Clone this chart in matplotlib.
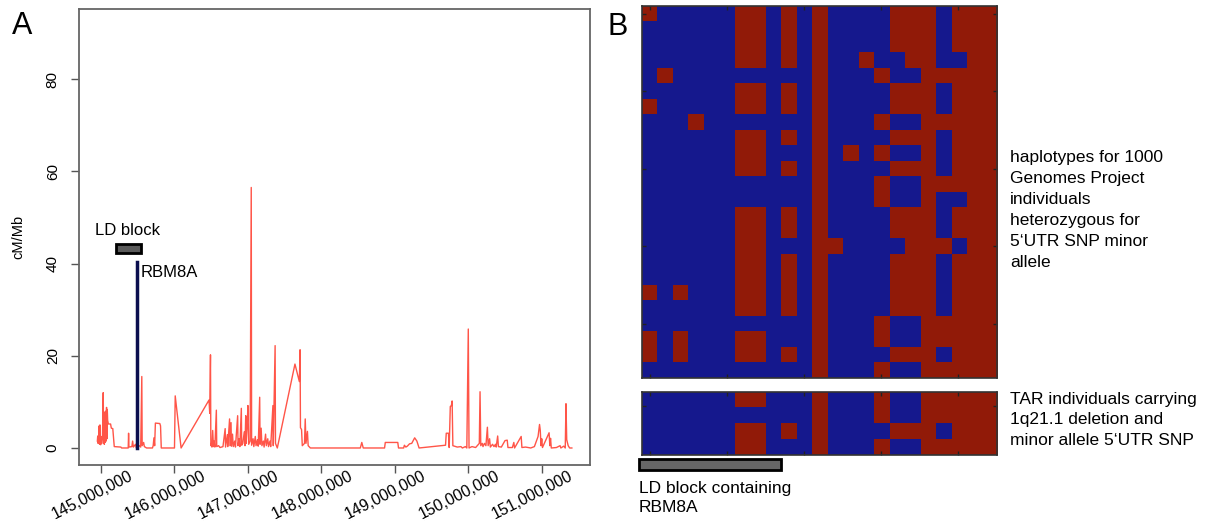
import matplotlib
matplotlib.use('Agg')
import matplotlib.pyplot as plt
import matplotlib.transforms as mtransforms
from matplotlib.colors import ListedColormap
from matplotlib.patches import Rectangle
import numpy as np

plt.rcParams['font.family'] = ['Liberation Sans', 'DejaVu Sans']

# ---------------- data ----------------
# recombination rate (cM/Mb) along chr1 (positions in Mb)
rec_pos_mb = [
    144.95, 144.955, 144.96, 144.965, 144.97, 144.975, 144.98, 144.985, 144.99, 144.995,
    145.00, 145.01, 145.02, 145.03, 145.035, 145.04, 145.045, 145.05, 145.055, 145.06,
    145.065, 145.07, 145.075, 145.08, 145.085, 145.09, 145.10, 145.13, 145.14, 145.16,
    145.18, 145.27, 145.28, 145.37, 145.375, 145.38, 145.42, 145.43, 145.44, 145.47,
    145.48, 145.50, 145.52, 145.54, 145.555, 145.56, 145.58, 145.59, 145.62, 145.70,
    145.71, 145.72, 145.73, 145.74, 145.80, 145.81, 145.82, 146.00, 146.01, 146.09,
    146.47, 146.48, 146.49, 146.495, 146.50, 146.51, 146.52, 146.53, 146.54, 146.55,
    146.57, 146.575, 146.60, 146.62, 146.66, 146.69, 146.695, 146.72, 146.725, 146.75,
    146.755, 146.77, 146.775, 146.79, 146.80, 146.82, 146.83, 146.86, 146.865, 146.88,
    146.89, 146.91, 146.915, 146.93, 146.95, 146.96, 146.97, 146.975, 146.99, 147.00,
    147.01, 147.03, 147.045, 147.05, 147.07, 147.08, 147.10, 147.11, 147.13, 147.14,
    147.16, 147.165, 147.18, 147.19, 147.21, 147.22, 147.24, 147.25, 147.27, 147.28,
    147.30, 147.31, 147.34, 147.345, 147.37, 147.375, 147.40, 147.64, 147.70, 147.71,
    147.715, 147.73, 147.74, 147.77, 147.78, 147.79, 147.81, 147.82, 147.85, 148.53,
    148.55, 148.57, 148.86, 148.87, 149.04, 149.05, 149.12, 149.13, 149.15, 149.17,
    149.20, 149.23, 149.27, 149.30, 149.33, 149.69, 149.70, 149.73, 149.74, 149.755,
    149.77, 149.78, 149.79, 149.85, 149.90, 149.92, 149.96, 149.98, 150.00, 150.01,
    150.05, 150.10, 150.15, 150.16, 150.17, 150.19, 150.20, 150.22, 150.24, 150.26,
    150.27, 150.29, 150.30, 150.33, 150.35, 150.37, 150.38, 150.40, 150.41, 150.45,
    150.50, 150.53, 150.54, 150.60, 150.62, 150.63, 150.72, 150.73, 150.78, 150.85,
    150.90, 150.95, 150.97, 150.98, 150.99, 151.00, 151.01, 151.10, 151.11, 151.12,
    151.13, 151.20, 151.25, 151.26, 151.30, 151.32, 151.33, 151.34, 151.36, 151.38,
    151.41,
]
rec_rate = [
    1.5, 2.6, 1.0, 2.0, 1.2, 4.8, 0.8, 5.0, 1.5, 0.7,
    2.5, 1.0, 2.5, 12.0, 1.0, 3.0, 0.8, 7.8, 1.2, 2.0,
    8.0, 1.5, 8.8, 2.0, 8.3, 6.0, 5.2, 5.2, 4.3, 4.2,
    0.3, 0.2, 0.0, 0.0, 3.2, 0.2, 0.3, 1.5, 0.2, 0.8,
    0.0, 0.3, 0.5, 0.2, 15.5, 0.5, 1.2, 0.3, 0.0, 0.0,
    0.5, 2.2, 0.5, 5.4, 5.3, 4.8, 0.0, 0.0, 11.3, 0.0,
    10.4, 7.5, 20.2, 0.5, 1.0, 0.2, 3.8, 0.3, 1.5, 0.2,
    8.2, 0.3, 0.5, 0.1, 0.3, 4.2, 0.2, 2.9, 0.3, 6.3,
    0.5, 5.5, 0.4, 3.0, 0.3, 1.5, 0.2, 7.0, 0.5, 2.0,
    0.3, 8.6, 0.6, 1.0, 3.5, 0.5, 7.0, 1.0, 5.0, 9.2,
    0.8, 1.5, 56.5, 0.6, 2.0, 0.3, 2.5, 0.5, 1.8, 0.4,
    11.0, 0.8, 4.3, 0.5, 1.5, 0.2, 3.0, 0.5, 2.0, 0.3,
    1.5, 0.3, 9.2, 0.5, 22.2, 1.0, 0.0, 18.2, 14.4, 21.3,
    4.4, 4.0, 0.5, 1.0, 6.3, 1.0, 3.6, 0.5, 0.0, 0.0,
    1.2, 0.0, 0.0, 1.2, 1.2, 0.0, 0.0, 0.6, 0.2, 0.4,
    0.9, 1.0, 2.2, 1.5, 0.0, 0.6, 3.2, 3.2, 0.1, 9.0,
    9.2, 10.2, 0.5, 0.2, 0.3, 0.0, 0.3, 0.0, 25.8, 0.0,
    0.3, 0.1, 1.0, 12.2, 0.5, 1.0, 0.3, 1.0, 0.5, 4.5,
    0.5, 2.0, 0.2, 0.8, 0.3, 0.8, 0.2, 2.6, 0.3, 0.2,
    1.6, 1.7, 0.1, 0.1, 1.2, 0.0, 2.5, 0.1, 0.2, 0.0,
    0.3, 2.5, 5.1, 3.8, 0.5, 2.0, 0.1, 3.3, 0.5, 2.1,
    0.0, 0.1, 0.5, 0.0, 0.4, 0.0, 9.6, 1.8, 0.5, 0.0,
    0.0,
]
x_ticks_mb = [145, 146, 147, 148, 149, 150, 151]
x_tick_labels = ['145,000,000', '146,000,000', '147,000,000', '148,000,000',
                 '149,000,000', '150,000,000', '151,000,000']
y_ticks = [0, 20, 40, 60, 80]

rbm8a_pos_mb = 145.49
rbm8a_height = 40.4
ld_block_start_mb = 145.20
ld_block_end_mb = 145.545

# haplotypes: 1 = minor (red), 0 = major (blue)
haplo_1000g = [
    "10000011010100001110111",
    "00000011010100001110111",
    "00000011010100001110111",
    "00000011010100100110011",
    "01000000000100010011111",
    "00000011010100001110111",
    "10000011010100001110111",
    "00010000000100010011111",
    "00000011010100001110111",
    "00000011000101010010111",
    "00000011010100001110111",
    "00000000000100010011111",
    "00000000000100010010011",
    "00000011010100001110111",
    "00000011010100001110111",
    "00000011000110000111011",
    "00000011010100001110111",
    "00000011010100001110111",
    "10100011010100001110111",
    "00000011010100001110111",
    "00000000000100010011111",
    "10100011000100010011111",
    "10100011010100001110111",
    "00000000000100010011111",
]
haplo_tar = [
    "00000011000100010011111",
    "00000000000100010011111",
    "00000011010100001110111",
    "00000011000100010011111",
]

label_1000g = "haplotypes for 1000\nGenomes Project\nindividuals\nheterozygous for\n5\u2018UTR SNP minor\nallele"
label_tar = "TAR individuals carrying\n1q21.1 deletion and\nminor allele 5\u2018UTR SNP"
label_ld = "LD block containing\nRBM8A"

# ---------------- figure ----------------
W, H = 1207, 522
fig = plt.figure(figsize=(W / 100, H / 100), dpi=100)


def fx(px):
    return px / W


def fy(py):
    return 1 - py / H


# ---- Panel A ----
axA = fig.add_axes([fx(79), fy(465), fx(590) - fx(79), fy(9) - fy(465)])
axA.plot(np.array(rec_pos_mb) * 1e6, rec_rate, color='#ff2a1a', lw=1.0, alpha=0.8)
axA.plot([rbm8a_pos_mb * 1e6] * 2, [0, rbm8a_height], color='#0b0f4f', lw=2.5)
axA.add_patch(Rectangle((ld_block_start_mb * 1e6, 42.3),
                        (ld_block_end_mb - ld_block_start_mb) * 1e6, 1.9,
                        facecolor='#5a5a5a', edgecolor='black', lw=2, zorder=3))
axA.text(144.918e6, 46.2, 'LD block', fontsize=12, va='baseline', ha='left')
axA.text(145.545e6, 37.1, 'RBM8A', fontsize=12, va='baseline', ha='left')

axA.set_xlim(144.70e6, 151.657e6)
axA.set_ylim(-3.69, 95.2)
axA.set_xticks([t * 1e6 for t in x_ticks_mb])
axA.set_xticklabels([])
axA.set_yticks(y_ticks)
axA.set_yticklabels([str(v) for v in y_ticks])
axA.tick_params(axis='both', direction='out', length=5.8, width=1, color='#555555')
axA.tick_params(axis='y', labelrotation=90, labelsize=11, pad=8)
for lab in axA.get_yticklabels():
    lab.set_va('center')
for sp in axA.spines.values():
    sp.set_color('#666666')
    sp.set_linewidth(1.3)

off = mtransforms.ScaledTranslation(0.27, -0.03, fig.dpi_scale_trans)
trans = mtransforms.blended_transform_factory(axA.transData, axA.transAxes) + off
for t, lab in zip(x_ticks_mb, x_tick_labels):
    axA.text(t * 1e6, 0, lab, transform=trans, rotation=27, ha='right', va='top',
             rotation_mode='anchor', fontsize=11.5, clip_on=False)

fig.text(fx(18), fy(237), 'cM/Mb', rotation=90, ha='center', va='center', fontsize=10.5)
fig.text(fx(12), fy(34), 'A', fontsize=22, va='baseline', ha='left')
fig.text(fx(607), fy(35), 'B', fontsize=22, va='baseline', ha='left')

# ---- Panel B ----
cmap = ListedColormap(['#15188d', '#911a08'])
arr1 = np.array([[int(c) for c in row] for row in haplo_1000g])
arr2 = np.array([[int(c) for c in row] for row in haplo_tar])

axB1 = fig.add_axes([fx(642), fy(378), fx(997) - fx(642), fy(6) - fy(378)])
axB1.imshow(arr1, cmap=cmap, vmin=0, vmax=1, aspect='auto', interpolation='nearest')
axB1.set_xticks([0, 5, 10, 15, 20])
axB1.set_yticks([0, 5, 10, 15, 20])

axB2 = fig.add_axes([fx(642), fy(455), fx(997) - fx(642), fy(392) - fy(455)])
axB2.imshow(arr2, cmap=cmap, vmin=0, vmax=1, aspect='auto', interpolation='nearest')
axB2.set_xticks([0, 5, 10, 15, 20])
axB2.set_yticks([0.37])

for ax in (axB1, axB2):
    ax.tick_params(direction='in', length=3, width=1, color='#222222',
                   top=True, right=True, labelbottom=False, labelleft=False)
    for sp in ax.spines.values():
        sp.set_color('#333333')
        sp.set_linewidth(1.2)

fig.text(fx(1010), fy(150), label_1000g, ha='left', va='top', fontsize=12.5, linespacing=1.5)
fig.text(fx(1010), fy(392), label_tar, ha='left', va='top', fontsize=12.5, linespacing=1.45)
fig.add_artist(Rectangle((fx(639), fy(470)), fx(781) - fx(639), fy(459) - fy(470),
                         transform=fig.transFigure, facecolor='#666666',
                         edgecolor='black', lw=2))
fig.text(fx(639), fy(481), label_ld, ha='left', va='top', fontsize=12.5, linespacing=1.35)

fig.savefig('out.png', dpi=100)
